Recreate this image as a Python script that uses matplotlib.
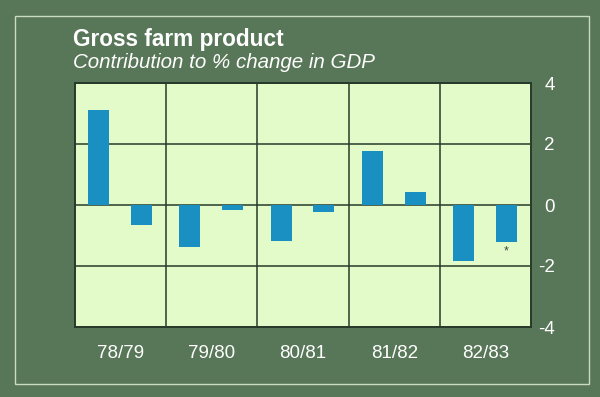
import numpy as np
import matplotlib.pyplot as plt
from matplotlib.patches import Rectangle

plt.rcParams['font.family'] = ['Liberation Sans', 'DejaVu Sans']

# data
years = ['78/79', '79/80', '80/81', '81/82', '82/83']
first_half = [3.1, -1.38, -1.18, 1.77, -1.85]
second_half = [-0.67, -0.15, -0.23, 0.43, -1.22]
footnote_idx = 4  # asterisk under the last bar

bg = '#587658'
panel = '#e2fbc8'
bar_col = '#1a90c2'
line_col = '#263a2a'

fig = plt.figure(figsize=(6, 3.97), dpi=100, facecolor=bg)
ax = fig.add_axes([75/600, 1-327/397, 456/600, 244/397])
ax.set_facecolor(panel)

x = np.arange(len(years))
ax.bar(x + 0.26, first_half, width=0.23, color=bar_col, zorder=3)
ax.bar(x + 0.73, second_half, width=0.23, color=bar_col, zorder=3)
ax.text(footnote_idx + 0.73, second_half[footnote_idx] - 0.12, '*',
        ha='center', va='top', fontsize=9, color='#444444', zorder=4)

ax.set_xlim(0, len(years))
ax.set_ylim(-4, 4)

# year labels centred in each block, block edges as minor ticks
ax.set_xticks(x + 0.5)
ax.set_xticklabels(years)
ax.set_xticks(np.arange(1, len(years)), minor=True)
ax.tick_params(axis='x', which='both', length=0, pad=13, labelsize=13.5, labelcolor='white')

ax.yaxis.tick_right()
ax.set_yticks([-4, -2, 0, 2, 4])
ax.set_yticklabels(['-4', '-2', '0', '2', '4'], ha='right')
ax.tick_params(axis='y', length=0, pad=17, labelsize=13.5, labelcolor='white')

ax.grid(axis='x', which='minor', color=line_col, linewidth=1.1, zorder=1)
ax.grid(axis='y', which='major', color=line_col, linewidth=1.1, zorder=1)
ax.grid(axis='x', which='major', visible=False)
for s in ax.spines.values():
    s.set_color(line_col)
    s.set_linewidth(1.4)

# titles
fig.text(73/600, 1-46/397, 'Gross farm product', color='white',
         fontsize=16.3, fontweight='bold', ha='left', va='baseline')
fig.text(73/600, 1-68/397, 'Contribution to % change in GDP', color='white',
         fontsize=14.8, style='italic', ha='left', va='baseline')

# thin light frame
fig.patches.append(Rectangle((15/600, 1-384/397), 574/600, 368/397,
                             transform=fig.transFigure, fill=False,
                             edgecolor='#c9dcc0', linewidth=1.0))

plt.savefig('out.png', dpi=100, facecolor=bg)
